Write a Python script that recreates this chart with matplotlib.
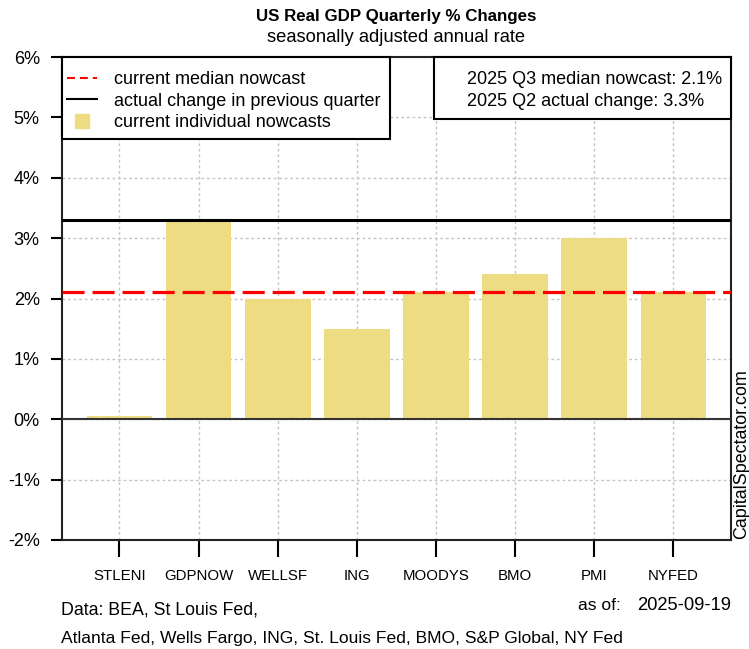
import matplotlib
matplotlib.use("Agg")
import matplotlib.pyplot as plt
from matplotlib.lines import Line2D
from matplotlib.patches import Rectangle

plt.rcParams['font.family'] = ['Liberation Sans', 'DejaVu Sans']

# nowcasts for 2025 Q3 (% annual rate)
sources = ["STLENI", "GDPNOW", "WELLSF", "ING", "MOODYS", "BMO", "PMI", "NYFED"]
nowcasts = [0.05, 3.3, 2.0, 1.5, 2.1, 2.4, 3.0, 2.1]
median_nowcast = 2.1
prev_actual = 3.3
y_ticks = [-2, -1, 0, 1, 2, 3, 4, 5, 6]
as_of = "2025-09-19"

bar_color = "#EEDC82"
W, H = 749, 649


def fx(px):
    return px / W


def fy(py):
    return 1 - py / H


fig = plt.figure(figsize=(W / 100, H / 100), dpi=100)
ax = fig.add_axes([fx(62), fy(540), (731 - 62) / W, (540 - 57) / H])

x = list(range(len(sources)))
ax.set_axisbelow(True)
ax.grid(True, color="#C4C4C4", linestyle=(0, (2, 2)), linewidth=1)
ax.bar(x, nowcasts, width=0.83, color=bar_color, zorder=2)
ax.axhline(0, color="#333333", linewidth=1.5, zorder=3)
ax.axhline(prev_actual, color="black", linewidth=2.2, zorder=3)
ax.axhline(median_nowcast, color="red", linewidth=2.3,
           linestyle=(0, (6.9, 2.5)), zorder=3)

ax.set_xlim(-0.725, 7.728)
ax.set_ylim(-2, 6)
ax.set_yticks(y_ticks)
ax.set_yticklabels([f"{t}%" for t in y_ticks])
ax.set_xticks(x)
ax.set_xticklabels(sources)
ax.tick_params(axis="y", length=8, width=1.5, labelsize=13, pad=8)
ax.tick_params(axis="x", length=12, width=1.5, labelsize=10.8, pad=9)
for s in ax.spines.values():
    s.set_linewidth(1.5)
    s.set_color("#222222")

# legend (left box), frame drawn separately
fig.patches.append(Rectangle((fx(62), fy(139)), (390 - 62) / W, (139 - 57) / H,
                             transform=fig.transFigure, facecolor="white",
                             edgecolor="black", linewidth=1.5, zorder=5))
handles = [
    Line2D([], [], color="red", linestyle=(0, (3.8, 2.4)), linewidth=1.5),
    Line2D([], [], color="black", linewidth=1.5),
    Line2D([], [], color=bar_color, marker="s", markersize=10, linestyle="none"),
]
labels = ["current median nowcast", "actual change in previous quarter",
          "current individual nowcasts"]
leg = fig.legend(handles, labels, loc="upper left",
                 bbox_to_anchor=(fx(67), fy(71)), bbox_transform=fig.transFigure,
                 borderaxespad=0, borderpad=0, frameon=False, fontsize=13,
                 handlelength=1.67, handletextpad=0.94, labelspacing=0.25)
leg.set_zorder(6)

# info box (right)
fig.patches.append(Rectangle((fx(434), fy(119)), (731 - 434) / W, (119 - 57) / H,
                             transform=fig.transFigure, facecolor="white",
                             edgecolor="black", linewidth=1.5, zorder=5))
fig.text(fx(467), fy(80), f"2025 Q3 median nowcast: {median_nowcast}%",
         fontsize=13, va="center", ha="left", zorder=6)
fig.text(fx(467), fy(101), f"2025 Q2 actual change: {prev_actual}%",
         fontsize=13, va="center", ha="left", zorder=6)

# titles
fig.text(fx(396), fy(16), "US Real GDP Quarterly % Changes",
         ha="center", va="center", fontsize=12.2, fontweight="bold")
fig.text(fx(396), fy(37), "seasonally adjusted annual rate",
         ha="center", va="center", fontsize=13.2)

# footer
fig.text(fx(61), fy(610), "Data: BEA, St Louis Fed,",
         ha="left", va="center", fontsize=12.8)
fig.text(fx(61), fy(638),
         "Atlanta Fed, Wells Fargo, ING, St. Louis Fed, BMO, S&P Global, NY Fed",
         ha="left", va="center", fontsize=12.6)
fig.text(fx(621), fy(606), "as of:", ha="right", va="center", fontsize=12.6)
fig.text(fx(731), fy(606), as_of, ha="right", va="center", fontsize=13.2)
fig.text(fx(742), fy(539), "CapitalSpectator.com", rotation=90,
         ha="center", va="bottom", fontsize=12.9)

fig.savefig("out.png", dpi=100)
